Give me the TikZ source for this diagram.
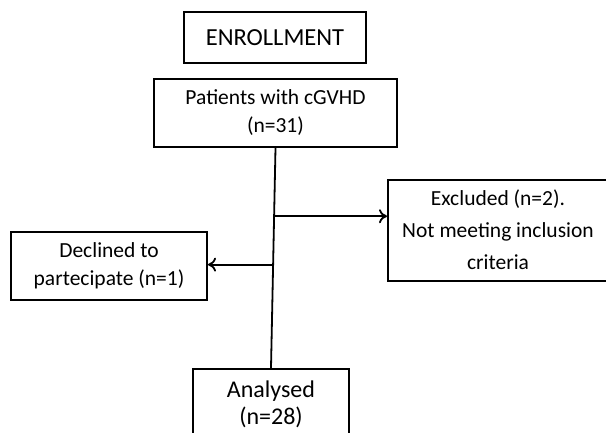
\documentclass[tikz,border=0pt]{standalone}
\usepackage{fontspec}
\setmainfont{Carlito}
\usetikzlibrary{calc,positioning,arrows.meta}
\tikzset{
    block/.style = {draw, rectangle, line width=2pt, align=center,
        inner sep=0pt, font=\fontsize{21.5}{28}\selectfont},
    arrow/.style = {draw, ->, line width=1.8pt},
    trunk/.style = {draw, line width=1.8pt}
}

\begin{document}
\begin{tikzpicture}[x=1pt, y=-1pt, >={To[length=8pt,width=14pt]}]
    \useasboundingbox (0,0) rectangle (606,432);
    \node [block, minimum width=182pt, minimum height=51pt, font=\fontsize{24.5}{30}\selectfont] (enroll) at (275,37.5) {ENROLLMENT};
    \node [block, minimum width=243pt, minimum height=68pt] (patients) at (275.5,113) {Patients with cGVHD\\(n=31)};
    \node [block, minimum width=220pt, minimum height=101pt, font=\fontsize{21.5}{32}\selectfont] (excl) at (498,230) {Excluded (n=2).\\Not meeting inclusion\\criteria};
    \node [block, minimum width=196pt, minimum height=68pt] (decl) at (109,266) {Declined to\\partecipate (n=1)};
    \node [block, minimum width=156pt, minimum height=70pt, font=\fontsize{24}{27}\selectfont] (anal) at (271,404) {Analysed\\(n=28)};
    % trunk and side branches
    \draw [trunk] (patients.south) -- (anal.north);
    \coordinate (brexcl) at ($(patients.south)!0.31!(anal.north)$);
    \coordinate (brdecl) at ($(patients.south)!0.53!(anal.north)$);
    \draw [arrow] (brexcl) -- (brexcl -| excl.west);
    \draw [arrow] (brdecl) -- (brdecl -| decl.east);
\end{tikzpicture}
\end{document}
